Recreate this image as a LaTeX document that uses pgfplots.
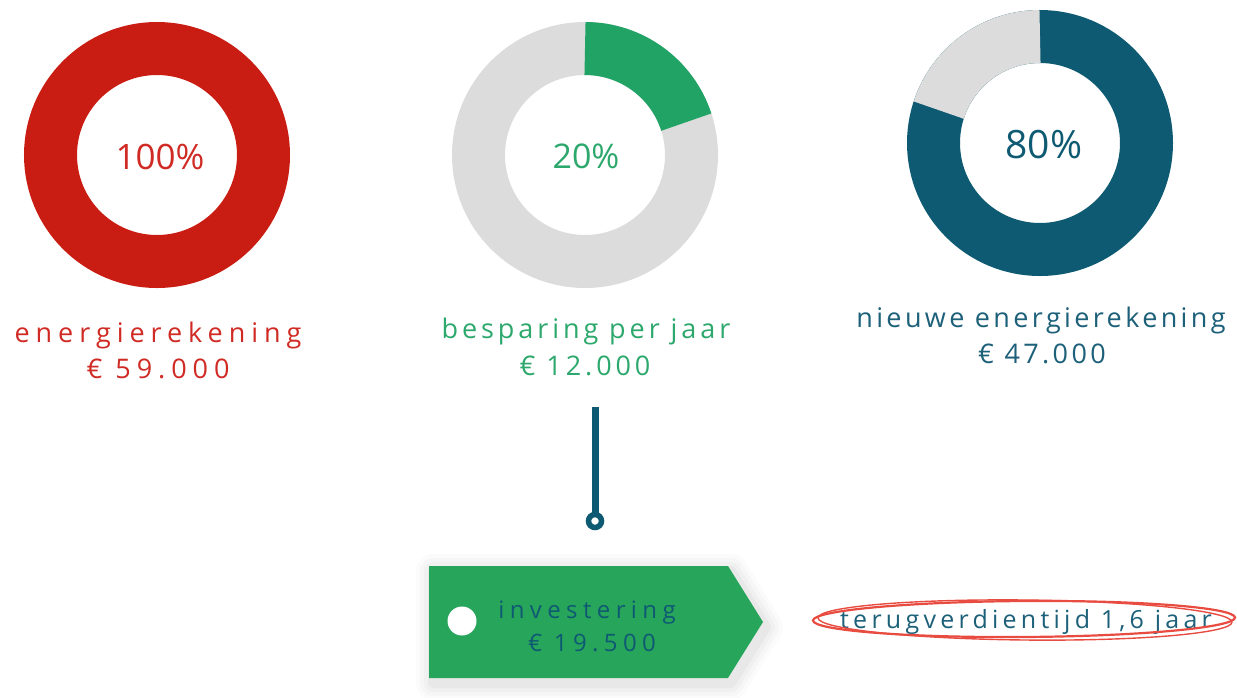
\documentclass[border=0pt]{standalone}
\usepackage{pgfplots}
\pgfplotsset{compat=1.18}
\usepackage{fontspec}
\setmainfont{Open Sans}
\newfontfamily\spacedR[LetterSpace=22]{Open Sans}
\newfontfamily\spacedG[LetterSpace=14.5]{Open Sans}
\newfontfamily\spacedB[LetterSpace=12.5]{Open Sans}
\newfontfamily\spacedI[LetterSpace=22.5]{Open Sans}
\newfontfamily\spacedT[LetterSpace=17]{Open Sans}
\definecolor{cred}{HTML}{C91C12}
\definecolor{credtxt}{HTML}{D02A24}
\definecolor{cgreen}{HTML}{21A366}
\definecolor{cgreentxt}{HTML}{2DA86C}
\definecolor{ctag}{HTML}{27A55B}
\definecolor{cblue}{HTML}{0F5A73}
\definecolor{cbluetxt}{HTML}{1D6079}
\definecolor{cgray}{HTML}{DCDCDC}
\definecolor{cell}{HTML}{E84C40}
% shares of the three donuts (percent)
\def\pA{100}
\def\pB{20}
\def\pC{80}
\def\tagpath{(axis cs:433,571) -- (axis cs:731,571) -- (axis cs:766,627) -- (axis cs:731,683) -- (axis cs:433,683) -- cycle}
\begin{document}
\begin{tikzpicture}
\begin{axis}[x=1pt,y=1pt,xmin=0,xmax=1237,ymin=0,ymax=697,y dir=reverse,
  hide axis,clip=false]
% donut 1: 100%
\draw[cred,line width=53pt] (axis cs:157,155) circle[radius=106.5pt];
% donut 2: 20% green on gray
\draw[cgray,line width=53pt] (axis cs:585,155) circle[radius=106.5pt];
\draw[cgreen,line width=53pt] (axis cs:585,155) ++(90:106.5pt)
   arc[start angle=90,end angle={90-3.6*\pB},radius=106.5pt];
% donut 3: 80% blue, remainder gray
\draw[cblue,line width=53pt] (axis cs:1040,143) circle[radius=106.5pt];
\draw[cgray,line width=53pt] (axis cs:1040,143) ++(90:106.5pt)
   arc[start angle=90,end angle={90+3.6*(100-\pC)},radius=106.5pt];
% percentages
\node[anchor=base,text=credtxt,font=\fontsize{35}{40}\selectfont,inner sep=0pt] at (axis cs:160,169) {100\%};
\node[anchor=base,text=cgreentxt,font=\fontsize{34}{40}\selectfont,inner sep=0pt] at (axis cs:586,168) {20\%};
\node[anchor=base,text=cblue,font=\fontsize{39}{44}\selectfont,inner sep=0pt] at (axis cs:1044,158) {80\%};
% labels
\node[anchor=base,text=credtxt,font=\fontsize{27}{30}\spacedR,inner sep=0pt] at (axis cs:158,342) {energierekening};
\node[anchor=base,text=credtxt,font=\fontsize{27}{30}\spacedR,inner sep=0pt] at (axis cs:158,378) {€ 59.000};
\node[anchor=base,text=cgreentxt,font=\fontsize{27}{30}\spacedG,inner sep=0pt] at (axis cs:586,338) {besparing per jaar};
\node[anchor=base,text=cgreentxt,font=\fontsize{27}{30}\spacedG,inner sep=0pt] at (axis cs:585,375) {€ 12.000};
\node[anchor=base,text=cbluetxt,font=\fontsize{27}{30}\spacedB,inner sep=0pt] at (axis cs:1041,327) {nieuwe energierekening};
\node[anchor=base,text=cbluetxt,font=\fontsize{27}{30}\spacedB,inner sep=0pt] at (axis cs:1042,363) {€ 47.000};
% connector
\draw[cblue,line width=7pt] (axis cs:595,407) -- (axis cs:595,514);
\draw[cblue,line width=5.5pt,fill=white] (axis cs:595,521) circle[radius=6.5pt];
% tag shadow
\draw[black,opacity=0.015,line width=34pt,line join=round] \tagpath;
\draw[black,opacity=0.02,line width=26pt,line join=round] \tagpath;
\draw[black,opacity=0.025,line width=18pt,line join=round] \tagpath;
\draw[black,opacity=0.03,line width=10pt,line join=round] \tagpath;
% tag
\fill[ctag] (axis cs:429,566) -- (axis cs:728,566) -- (axis cs:763,622) -- (axis cs:728,678) -- (axis cs:429,678) -- cycle;
\fill[white] (axis cs:462,621) circle[radius=14.5pt];
\node[anchor=base,text=cblue,font=\fontsize{24}{28}\spacedI,inner sep=0pt] at (axis cs:587,618) {investering};
\node[anchor=base,text=cblue,font=\fontsize{24}{28}\spacedI,inner sep=0pt] at (axis cs:592,651) {€ 19.500};
% payback
\node[anchor=base,text=cbluetxt,font=\fontsize{25}{28}\spacedT,inner sep=0pt] at (axis cs:1026,628) {terugverdientijd 1,6 jaar};
\draw[cell,line width=2.2pt,rotate around={0.4:(axis cs:1024,619)}] (axis cs:1024,619) ellipse[x radius=211pt,y radius=18pt];
\draw[cell,line width=1.4pt,rotate around={-0.6:(axis cs:1025,620)}] (axis cs:1025,620) ellipse[x radius=207pt,y radius=20pt];
\end{axis}
\pgfresetboundingbox
\path (0,0) rectangle (1237pt,697pt);
\end{tikzpicture}
\end{document}
